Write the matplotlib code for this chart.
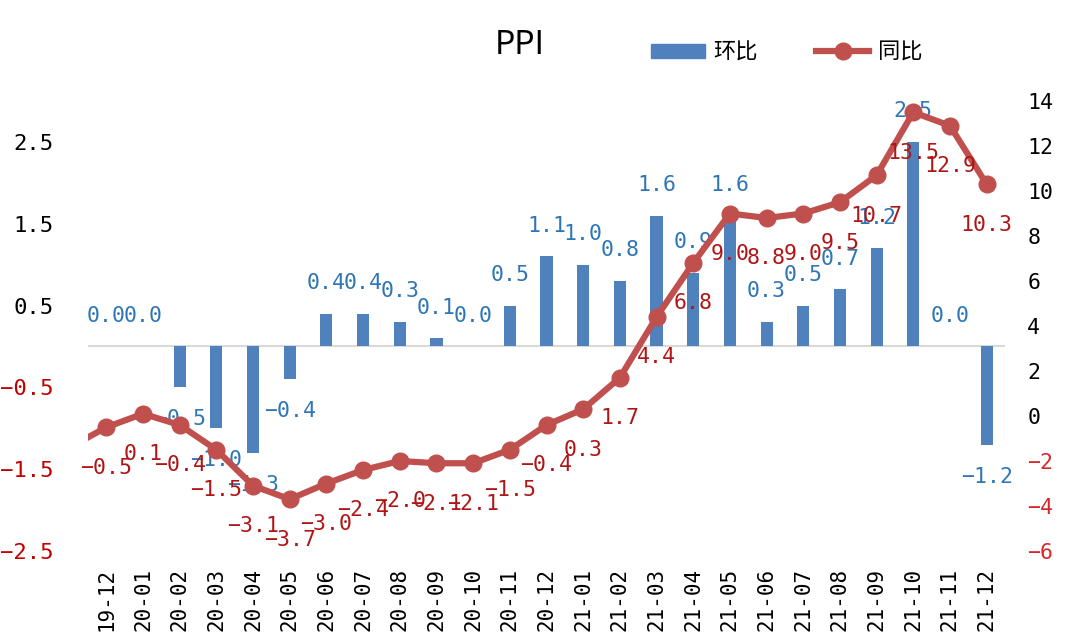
import matplotlib.pyplot as plt
import numpy as np
from matplotlib.patches import Patch
from matplotlib.lines import Line2D

plt.rcParams['font.family'] = ['Noto Sans CJK SC', 'DejaVu Sans']
plt.rcParams['axes.unicode_minus'] = True
NUM = ['DejaVu Sans Mono', 'DejaVu Sans']

months = ['19-12', '20-01', '20-02', '20-03', '20-04', '20-05', '20-06', '20-07',
          '20-08', '20-09', '20-10', '20-11', '20-12', '21-01', '21-02', '21-03',
          '21-04', '21-05', '21-06', '21-07', '21-08', '21-09', '21-10', '21-11', '21-12']
# 环比 (month on month)
mom = [0.0, 0.0, -0.5, -1.0, -1.3, -0.4, 0.4, 0.4, 0.3, 0.1, 0.0, 0.5, 1.1,
       1.0, 0.8, 1.6, 0.9, 1.6, 0.3, 0.5, 0.7, 1.2, 2.5, 0.0, -1.2]
# 同比 (year on year); yoy_prev is 19-11, cut off at the left edge
yoy_prev = -1.4
yoy = [-0.5, 0.1, -0.4, -1.5, -3.1, -3.7, -3.0, -2.4, -2.0, -2.1, -2.1, -1.5, -0.4,
       0.3, 1.7, 4.4, 6.8, 9.0, 8.8, 9.0, 9.5, 10.7, 13.5, 12.9, 10.3]
left_ticks = [-2.5, -1.5, -0.5, 0.5, 1.5, 2.5]
right_ticks = list(range(-6, 15, 2))

bar_c = '#4F81BD'
line_c = '#C0504D'
bar_lbl_c = '#2E75B6'
line_lbl_c = '#B01515'
neg_c = '#C00000'


def fmt(v):
    return f'{v:.1f}'.replace('-', '\u2212')


fig = plt.figure(figsize=(10.66, 6.38), dpi=100)
ax1 = fig.add_axes([88 / 1066, 1 - 551 / 638, (1005 - 88) / 1066, (551 - 101) / 638])
ax2 = ax1.twinx()

x = np.arange(len(months))
ax1.bar(x, mom, width=0.33, color=bar_c, zorder=2)
ax1.axhline(0, color='#D9D9D9', lw=1.5, zorder=1)
for xi, v in zip(x, mom):
    off = 22 if v >= 0 else -23
    ax1.annotate(fmt(v), (xi, v), xytext=(0, off), textcoords='offset points',
                 ha='center', va='center', fontsize=15.5, color=bar_lbl_c, family=NUM)

xl = np.concatenate([[-1], x])
yl = [yoy_prev] + yoy
ax2.plot(xl, yl, color=line_c, lw=4.5, marker='o', markersize=12, zorder=3)
for xi, v in zip(x, yoy):
    ax2.annotate(fmt(v), (xi, v), xytext=(0, -29), textcoords='offset points',
                 ha='center', va='center', fontsize=15.5, color=line_lbl_c,
                 family=NUM, zorder=4)

ax1.set_xlim(-0.5, len(months) - 0.5)
ax1.set_ylim(-2.5, 3.0)
ax2.set_ylim(-6, 14)
ax1.set_yticks(left_ticks)
ax1.set_yticklabels([fmt(t) for t in left_ticks], family=NUM, fontsize=16)
ax2.set_yticks(right_ticks)
ax2.set_yticklabels([str(t).replace('-', '\u2212') for t in right_ticks],
                    family=NUM, fontsize=15.5)
ax1.set_xticks(x)
ax1.set_xticklabels(months, rotation=90, fontsize=15, family=NUM)

for ax in (ax1, ax2):
    for s in ax.spines.values():
        s.set_visible(False)
    ax.tick_params(length=0)
ax1.tick_params(axis='y', pad=25)
ax1.tick_params(axis='x', pad=12)
ax2.tick_params(axis='y', pad=16)
for t, val in zip(ax1.get_yticklabels(), left_ticks):
    t.set_color(neg_c if val < 0 else 'black')
for t, val in zip(ax2.get_yticklabels(), right_ticks):
    t.set_color('#D8262B' if val < 0 else 'black')

fig.text(520 / 1066, 1 - 45 / 638, 'PPI', fontsize=23, ha='center', va='center')

# legend
handles = [Patch(color=bar_c),
           Line2D([], [], color=line_c, lw=4.5, marker='o', markersize=12)]
fig.legend(handles, ['环比', '同比'], loc='center', bbox_to_anchor=(787 / 1066, 1 - 52 / 638),
           ncol=2, frameon=False, fontsize=16, handlelength=2.4, handleheight=0.6,
           columnspacing=2.6, handletextpad=0.4)

fig.savefig('out.png', dpi=100)
